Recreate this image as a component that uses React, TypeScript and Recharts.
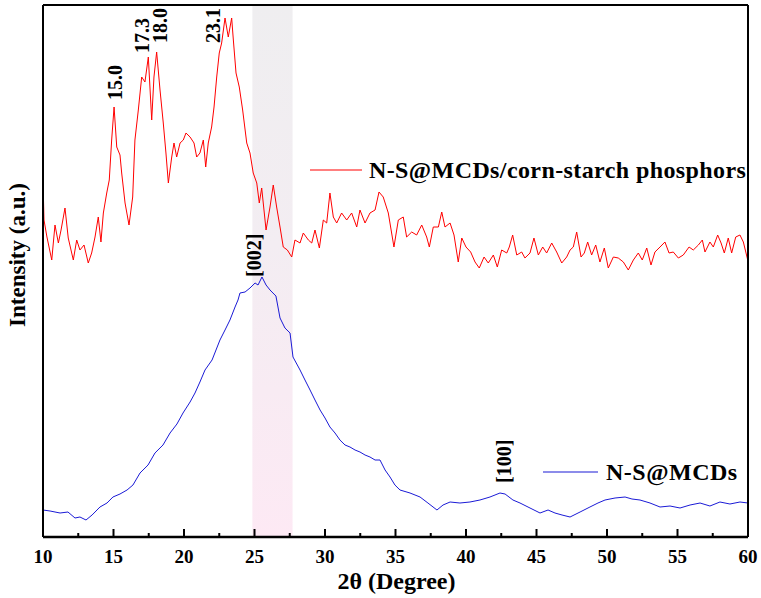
import React from 'react';
import { ComposedChart, Line, XAxis, YAxis, ReferenceArea, Scatter, Legend, Label } from 'recharts';

const FONT = '"Liberation Serif", "Times New Roman", Times, serif';

// N-S@MCDs/corn-starch phosphors (red)
const compositeTheta = [10.0, 10.07, 10.28, 10.62, 10.85, 11.09, 11.28, 11.56, 11.79, 12.15, 12.39, 12.62, 12.91, 13.21, 13.45, 13.69, 13.92, 14.11, 14.28, 14.52, 14.7, 14.87, 15.04, 15.23, 15.46, 15.58, 15.82, 16.1, 16.36, 16.52, 16.76, 17.0, 17.23, 17.47, 17.71, 17.87, 18.06, 18.3, 18.53, 18.72, 18.89, 19.13, 19.29, 19.48, 19.72, 19.95, 20.14, 20.43, 20.71, 20.9, 21.13, 21.37, 21.54, 21.72, 21.96, 22.13, 22.32, 22.5, 22.67, 22.91, 23.14, 23.38, 23.5, 23.69, 23.92, 24.16, 24.45, 24.68, 24.91, 25.16, 25.34, 25.51, 25.82, 26.1, 26.33, 26.57, 26.81, 27.04, 27.33, 27.64, 27.87, 28.23, 28.46, 28.82, 29.06, 29.29, 29.6, 29.88, 30.12, 30.35, 30.59, 30.83, 31.18, 31.54, 31.89, 32.25, 32.48, 32.84, 33.19, 33.55, 33.83, 34.13, 34.49, 34.89, 35.2, 35.55, 35.79, 36.15, 36.5, 36.86, 37.21, 37.4, 37.68, 38.04, 38.28, 38.51, 38.87, 39.15, 39.45, 39.7, 40.0, 40.33, 40.64, 40.94, 41.28, 41.58, 41.94, 42.22, 42.53, 42.89, 43.07, 43.31, 43.6, 43.95, 44.18, 44.54, 44.82, 45.13, 45.44, 45.72, 46.08, 46.43, 46.79, 47.14, 47.38, 47.61, 47.85, 48.16, 48.39, 48.63, 48.91, 49.2, 49.5, 49.81, 50.09, 50.45, 50.8, 51.16, 51.51, 51.87, 52.22, 52.5, 52.82, 53.12, 53.4, 53.76, 54.11, 54.4, 54.7, 55.06, 55.41, 55.82, 56.12, 56.48, 56.76, 56.95, 57.3, 57.54, 57.85, 58.09, 58.32, 58.6, 58.84, 59.13, 59.43, 59.67, 59.98];
const compositeIntensity = [357, 317, 300, 277, 312, 294, 307, 329, 299, 277, 297, 287, 292, 274, 284, 300, 320, 295, 324, 344, 357, 397, 430, 390, 382, 364, 334, 312, 340, 397, 427, 460, 455, 480, 417, 460, 485, 447, 414, 384, 354, 380, 394, 380, 394, 397, 404, 400, 394, 380, 384, 397, 370, 394, 410, 430, 460, 484, 494, 519, 500, 519, 497, 464, 450, 427, 394, 384, 364, 354, 334, 349, 307, 330, 352, 330, 310, 290, 287, 280, 297, 294, 304, 297, 294, 307, 289, 317, 314, 344, 320, 314, 324, 317, 324, 310, 327, 314, 324, 327, 345, 340, 324, 290, 317, 320, 300, 305, 302, 312, 300, 290, 310, 310, 325, 310, 314, 302, 275, 299, 290, 285, 275, 269, 280, 274, 282, 270, 287, 284, 290, 302, 282, 285, 279, 284, 299, 282, 290, 284, 294, 285, 274, 280, 287, 290, 305, 280, 284, 295, 282, 292, 275, 289, 269, 280, 279, 275, 267, 277, 284, 277, 289, 272, 285, 290, 295, 284, 285, 279, 282, 290, 287, 292, 297, 285, 295, 290, 302, 294, 284, 299, 284, 300, 302, 295, 277];

// N-S@MCDs (blue)
const mcdsTheta = [10.0, 10.5, 11.21, 11.77, 12.27, 12.62, 13.05, 13.48, 14.04, 14.54, 14.96, 15.46, 15.96, 16.38, 16.88, 17.45, 17.94, 18.51, 19.01, 19.5, 19.93, 20.43, 20.78, 21.13, 21.49, 21.99, 22.55, 22.91, 23.26, 23.62, 23.83, 23.97, 24.33, 24.68, 25.04, 25.25, 25.53, 25.82, 26.1, 26.52, 26.81, 27.16, 27.52, 27.73, 28.23, 28.58, 28.94, 29.29, 29.65, 30.0, 30.35, 30.71, 31.06, 31.42, 31.77, 32.13, 32.48, 32.84, 33.19, 33.55, 33.9, 34.26, 34.61, 34.96, 35.32, 36.03, 36.74, 37.3, 37.94, 38.37, 38.87, 39.57, 40.28, 40.99, 41.7, 42.41, 42.77, 43.33, 43.83, 44.54, 45.25, 45.82, 46.31, 46.81, 47.38, 48.09, 48.79, 49.36, 49.86, 50.57, 51.28, 51.77, 52.34, 53.05, 53.76, 54.47, 55.18, 55.89, 56.6, 57.3, 58.01, 58.72, 59.43, 60.0];
const mcdsIntensity = [27, 26, 24, 25, 19, 20, 17, 22, 30, 34, 40, 43, 47, 52, 64, 72, 84, 92, 104, 113, 124, 135, 144, 155, 167, 177, 197, 207, 217, 230, 237, 244, 245, 249, 254, 252, 260, 252, 247, 241, 219, 209, 204, 180, 167, 157, 147, 137, 127, 119, 110, 104, 97, 92, 90, 87, 85, 82, 80, 77, 77, 67, 60, 52, 47, 44, 40, 34, 27, 32, 35, 34, 35, 37, 40, 44, 43, 37, 34, 29, 24, 27, 24, 22, 20, 25, 30, 34, 37, 39, 40, 38, 37, 34, 30, 31, 29, 32, 34, 31, 35, 33, 35, 34];

// Peak annotations
const peakLabels = ['15.0', '17.3', '18.0', '23.1', '[002]', '[100]'];
const peakTheta = [15.1, 17.0, 18.3, 22.06, 24.96, 42.7];
const peakIntensity = [437, 484, 494, 494, 260, 54];

const majorTicks = [10, 15, 20, 25, 30, 35, 40, 45, 50, 55, 60];
const minorTicks = [12.5, 17.5, 22.5, 27.5, 32.5, 37.5, 42.5, 47.5, 52.5, 57.5];
const allTicks = [...majorTicks, ...minorTicks].sort((a, b) => a - b);

const bandStart = 24.85;
const bandEnd = 27.7;

const compositeName = 'N-S@MCDs/corn-starch phosphors';
const mcdsName = 'N-S@MCDs';

const compositeData = compositeTheta.map((x, i) => ({ x, y: compositeIntensity[i] }));
const mcdsData = mcdsTheta.map((x, i) => ({ x, y: mcdsIntensity[i] }));
const peakData = peakTheta.map((x, i) => ({ x, y: peakIntensity[i], text: peakLabels[i] }));

const legendLayout: Record<string, { x1: number; x2: number; y: number; tx: number; fs: number; ls: number }> = {
  [compositeName]: { x1: 310, x2: 362, y: 170, tx: 369, fs: 24, ls: 0.4 },
  [mcdsName]: { x1: 543, x2: 598, y: 472, tx: 606, fs: 24, ls: 0.5 },
};

const AxisTick = (props: any) => {
  const { x, payload } = props;
  const y = 537;
  const v = payload.value;
  const major = v % 5 === 0;
  return (
    <g>
      <line x1={x} x2={x} y1={y} y2={y - (major ? 8 : 4)} stroke="#000" strokeWidth={2} />
      {major && (
        <text x={x} y={y + 26} textAnchor="middle" fontFamily={FONT} fontWeight="bold" fontSize={19} fill="#000">
          {v}
        </text>
      )}
    </g>
  );
};

const PeakText = (props: any) => {
  const { cx, cy, payload } = props;
  return (
    <text
      x={cx}
      y={cy}
      transform={`rotate(-90 ${cx} ${cy})`}
      textAnchor="start"
      dominantBaseline="central"
      fontFamily={FONT}
      fontWeight="bold"
      fontSize={20}
      fill="#000"
    >
      {payload.text}
    </text>
  );
};

const LegendContent = (props: any) => {
  const payload = props.payload || [];
  return (
    <svg width={761} height={598} style={{ position: 'absolute', left: 0, top: 0 }}>
      {payload.map((entry: any) => {
        const pos = legendLayout[entry.value];
        if (!pos) return null;
        return (
          <g key={entry.value}>
            <line x1={pos.x1} x2={pos.x2} y1={pos.y} y2={pos.y} stroke={entry.color} strokeWidth={1.2} />
            <text x={pos.tx} y={pos.y + 8} fontFamily={FONT} fontWeight="bold" fontSize={pos.fs} letterSpacing={pos.ls} fill="#000">
              {entry.value}
            </text>
          </g>
        );
      })}
    </svg>
  );
};

export default function App() {
  return (
    <div style={{ position: 'absolute', left: 0, top: 0, width: 761, height: 598, background: '#fff' }}>
      <ComposedChart width={761} height={598} margin={{ top: 4, right: 12, bottom: 60, left: 42 }}>
        <defs>
          <linearGradient id="bandGrad" x1="0" y1="0" x2="0" y2="1">
            <stop offset="0%" stopColor="#efeef0" />
            <stop offset="45%" stopColor="#f3edf2" />
            <stop offset="100%" stopColor="#fde9f4" />
          </linearGradient>
        </defs>
        <ReferenceArea x1={bandStart} x2={bandEnd} y1={0} y2={532} fill="url(#bandGrad)" fillOpacity={1} stroke="none" ifOverflow="hidden" />
        <Line data={compositeData} dataKey="y" name={compositeName} type="linear" stroke="#ff0000" strokeWidth={1} dot={false} isAnimationActive={false} />
        <Line data={mcdsData} dataKey="y" name={mcdsName} type="linear" stroke="#1a1ad6" strokeWidth={1} dot={false} isAnimationActive={false} />
        <Scatter data={peakData} dataKey="y" shape={<PeakText />} legendType="none" isAnimationActive={false} />
        <XAxis
          dataKey="x"
          type="number"
          domain={[10, 60]}
          ticks={allTicks}
          interval={0}
          height={1}
          tickSize={0}
          tickMargin={0}
          tickLine={false}
          tick={<AxisTick />}
          axisLine={{ stroke: '#000', strokeWidth: 2.5 }}
          allowDataOverflow
        >
          <Label
            content={(p: any) => {
              const vb = p.viewBox || { x: 43, y: 537, width: 705 };
              return (
                <text x={vb.x + vb.width / 2 + 1} y={589} textAnchor="middle" fontFamily={FONT} fontWeight="bold" fontSize={24} fill="#000">
                  2θ (Degree)
                </text>
              );
            }}
          />
        </XAxis>
        <XAxis xAxisId="top" orientation="top" type="number" domain={[10, 60]} height={1} tick={false} tickLine={false} axisLine={{ stroke: '#000', strokeWidth: 2 }} />
        <YAxis
          dataKey="y"
          type="number"
          domain={[0, 532]}
          width={1}
          tick={false}
          tickLine={false}
          axisLine={{ stroke: '#000', strokeWidth: 2 }}
          allowDataOverflow
        >
          <Label
            content={() => {
              const cx = 25;
              const cy = 255;
              return (
                <text x={cx} y={cy} transform={`rotate(-90 ${cx} ${cy})`} textAnchor="middle" fontFamily={FONT} fontWeight="bold" fontSize={23} fill="#000">
                  Intensity (a.u.)
                </text>
              );
            }}
          />
        </YAxis>
        <YAxis yAxisId="right" orientation="right" type="number" domain={[0, 532]} width={1} tick={false} tickLine={false} axisLine={{ stroke: '#000', strokeWidth: 2 }} />
        <Legend
          layout="horizontal"
          verticalAlign="middle"
          align="center"
          content={<LegendContent />}
          wrapperStyle={{ position: 'absolute', left: 0, top: 0, width: 761, height: 598, pointerEvents: 'none' }}
        />
      </ComposedChart>
    </div>
  );
}
